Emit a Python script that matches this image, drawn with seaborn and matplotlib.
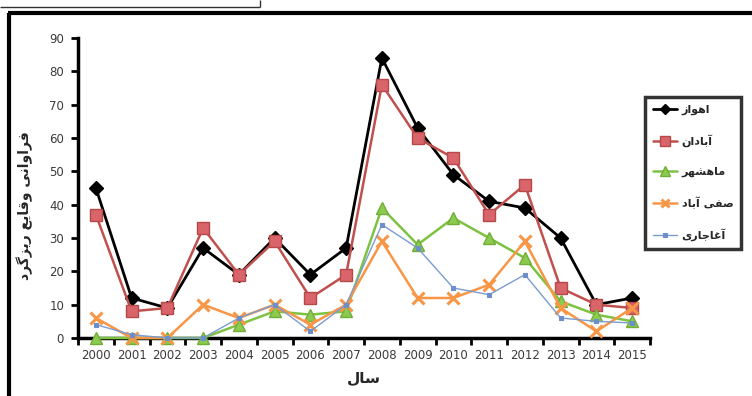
import matplotlib
matplotlib.use("Agg")
import matplotlib.pyplot as plt
from matplotlib.lines import Line2D
import seaborn as sns
import pandas as pd

# --- data ---------------------------------------------------------------
years = [str(y) for y in range(2000, 2016)]
ahvaz = [45, 12, 9, 27, 19, 30, 19, 27, 84, 63, 49, 41, 39, 30, 10, 12]
abadan = [37, 8, 9, 33, 19, 29, 12, 19, 76, 60, 54, 37, 46, 15, 10, 9]
mahshahr = [0, 0, 0, 0, 4, 8, 7, 8, 39, 28, 36, 30, 24, 11, 7, 5]
safiabad = [6, 0, 0, 10, 6, 10, 4, 10, 29, 12, 12, 16, 29, 9, 2, 9]
aghajari = [4, 1, 0, 0, 6, 10, 2, 10, 34, 27, 15, 13, 19, 6, 5, 4.5]

series_names = ["اهواز", "آبادان", "ماهشهر", "صفی آباد", "آغاجاری"]
y_title = "فراوانی وقایع ریزگرد"
x_title = "سال"

# --- minimal Arabic-script shaping (presentation forms, visual order) ----
# (isolated, final, initial, medial); None = letter does not join forward
FORMS = {
    "ا": ("\uFE8D", "\uFE8E", None, None),
    "آ": ("\uFE81", "\uFE82", None, None),
    "د": ("\uFEA9", "\uFEAA", None, None),
    "ر": ("\uFEAD", "\uFEAE", None, None),
    "ز": ("\uFEAF", "\uFEB0", None, None),
    "و": ("\uFEED", "\uFEEE", None, None),
    "ب": ("\uFE8F", "\uFE90", "\uFE91", "\uFE92"),
    "ن": ("\uFEE5", "\uFEE6", "\uFEE7", "\uFEE8"),
    "ه": ("\uFEE9", "\uFEEA", "\uFEEB", "\uFEEC"),
    "م": ("\uFEE1", "\uFEE2", "\uFEE3", "\uFEE4"),
    "ش": ("\uFEB5", "\uFEB6", "\uFEB7", "\uFEB8"),
    "ص": ("\uFEB9", "\uFEBA", "\uFEBB", "\uFEBC"),
    "ف": ("\uFED1", "\uFED2", "\uFED3", "\uFED4"),
    "ی": ("\uFEEF", "\uFEF0", "\uFEF3", "\uFEF4"),
    "غ": ("\uFECD", "\uFECE", "\uFECF", "\uFED0"),
    "ج": ("\uFE9D", "\uFE9E", "\uFE9F", "\uFEA0"),
    "ق": ("\uFED5", "\uFED6", "\uFED7", "\uFED8"),
    "ع": ("\uFEC9", "\uFECA", "\uFECB", "\uFECC"),
    "گ": ("\uFB92", "\uFB93", "\uFB94", "\uFB95"),
    "س": ("\uFEB1", "\uFEB2", "\uFEB3", "\uFEB4"),
    "ل": ("\uFEDD", "\uFEDE", "\uFEDF", "\uFEE0"),
}


def shape(text):
    out = []
    for i, ch in enumerate(text):
        if ch not in FORMS:
            out.append(ch)
            continue
        prev = text[i - 1] if i > 0 else None
        nxt = text[i + 1] if i + 1 < len(text) else None
        join_prev = prev in FORMS and FORMS[prev][2] is not None
        join_next = nxt in FORMS and FORMS[ch][2] is not None
        iso, fin, ini, med = FORMS[ch]
        if join_prev and join_next:
            out.append(med)
        elif join_prev:
            out.append(fin)
        elif join_next:
            out.append(ini)
        else:
            out.append(iso)
    return "".join(reversed(out))


# --- figure ---------------------------------------------------------------
sns.set_theme(style="white")
plt.rcParams["font.family"] = ["DejaVu Sans"]

W, H = 752, 396
fig = plt.figure(figsize=(W / 100, H / 100), dpi=100)
fig.patch.set_facecolor("white")
ax = fig.add_axes([78 / W, 1 - 338 / H, (650 - 78) / W, (338 - 38) / H])
ax.set_facecolor("white")

pos = list(range(len(years)))
styles = [
    (ahvaz, "black", "D", 7, "black", "black", 2.0, 1.0),
    (abadan, "#C0504D", "s", 9, "#D9646A", "#B5484A", 1.8, 1.0),
    (mahshahr, "#7DC242", "^", 9, "#8CCB4F", "#6FAE38", 1.8, 1.0),
    (safiabad, "#F79646", "x", 8, "#F79646", "#F79646", 1.8, 2.2),
    (aghajari, "#7B9BD1", "s", 3.5, "#6C8FCB", "#6C8FCB", 1.0, 0.8),
]

for name, (vals, col, mk, ms, mfc, mec, lw, mew) in zip(series_names, styles):
    df = pd.DataFrame({"pos": pos, "val": vals})
    sns.lineplot(data=df, x="pos", y="val", ax=ax, color=col, linewidth=lw,
                 marker=mk, markersize=ms, markerfacecolor=mfc,
                 markeredgecolor=mec, markeredgewidth=mew,
                 label=shape(name), clip_on=False, zorder=3)

ax.set_xlim(-0.5, len(years) - 0.5)
ax.set_ylim(0, 90)
ax.set_yticks(range(0, 91, 10))
ax.set_xticks(pos)
ax.set_xticklabels(years)
ax.set_xticks([p - 0.5 for p in pos] + [len(years) - 0.5], minor=True)

for side in ("top", "right"):
    ax.spines[side].set_visible(False)
for side in ("left", "bottom"):
    ax.spines[side].set_visible(True)
    ax.spines[side].set_color("black")
    ax.spines[side].set_linewidth(2.5)

ax.tick_params(axis="y", direction="out", length=5, width=2, color="black",
               labelsize=8.5, labelcolor="#3a3a3a", pad=5, left=True)
ax.tick_params(axis="x", which="major", length=0, labelsize=8.5,
               labelcolor="#3a3a3a", pad=8)
ax.tick_params(axis="x", which="minor", direction="out", length=5, width=2,
               color="black", bottom=True)

ax.set_xlabel(shape(x_title), fontsize=11, fontweight="bold", labelpad=6)
ax.set_ylabel(shape(y_title), fontsize=10, fontweight="bold")
ax.yaxis.set_label_coords(-0.078, 0.44)
ax.grid(False)

leg = ax.legend(loc="upper left", bbox_to_anchor=(645 / W, 1 - 97 / H),
                bbox_transform=fig.transFigure, frameon=True, fancybox=False,
                fontsize=8, handlelength=2.2, labelspacing=1.75,
                borderpad=0.7, handletextpad=0.4, borderaxespad=0,
                markerscale=0.8)
leg.get_frame().set_edgecolor("black")
leg.get_frame().set_linewidth(2.5)
for t in leg.get_texts():
    t.set_fontweight("bold")

# surrounding frame lines of the figure
def fline(x0, y0, x1, y1, lw, col="black"):
    fig.add_artist(Line2D([x0 / W, x1 / W], [1 - y0 / H, 1 - y1 / H],
                          transform=fig.transFigure, color=col, linewidth=lw,
                          solid_capstyle="butt"))

fline(0, 7, 260, 7, 1.0, "#333333")
fline(260, 0, 260, 7, 1.0, "#333333")
fline(8, 13, W, 13, 3.0)
fline(9, 13, 9, H, 3.0)

fig.savefig("out.png", dpi=100, facecolor="white")
